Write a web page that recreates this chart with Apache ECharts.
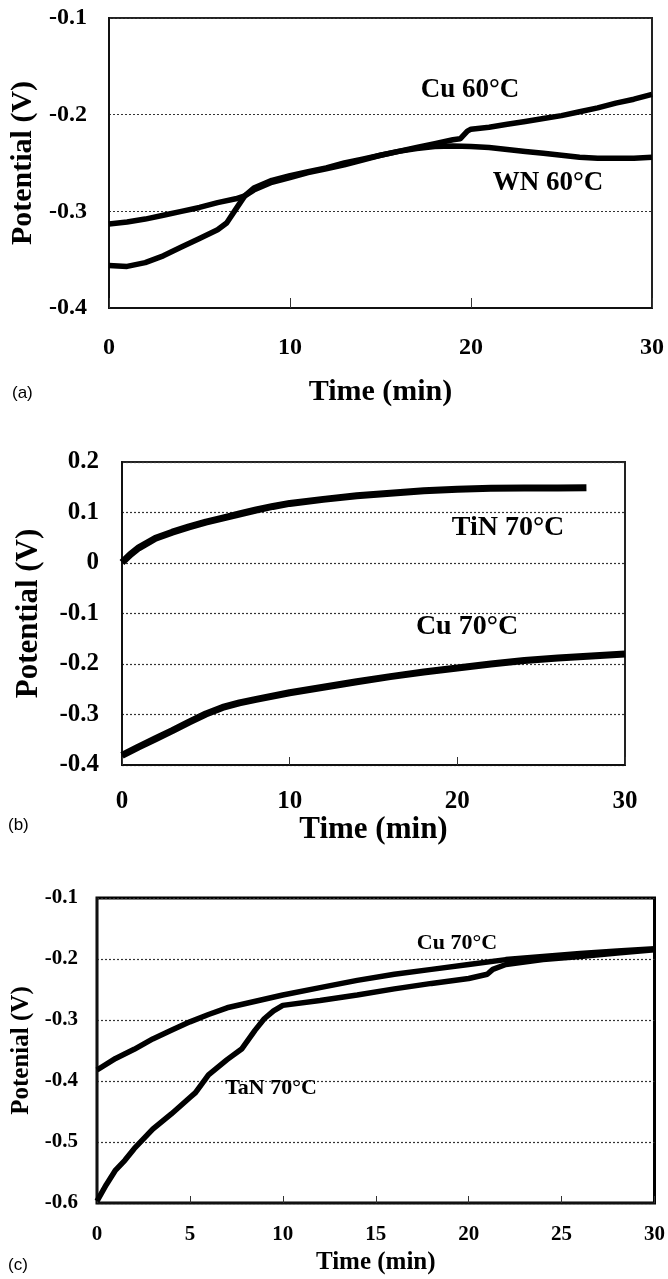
<!DOCTYPE html>
<html>
<head>
<meta charset="utf-8">
<script src="https://cdn.jsdelivr.net/npm/echarts@6/dist/echarts.min.js"></script>
<style>
html,body{margin:0;padding:0;background:#fff;}
#chart{width:668px;height:1279px;}
</style>
</head>
<body>
<div id="chart"></div>
<script>
// ---------- Data ----------
// Panel (a)
const timeA_Cu = [0,1,2,3,4,5,6,7,7.5,8,9,10,11,12,13,14,15,16,17,18,19,19.4,19.8,20,21,22,23,24,25,26,27,28,29,30];
const potA_Cu  = [-0.313,-0.311,-0.308,-0.304,-0.300,-0.296,-0.291,-0.287,-0.284,-0.278,-0.270,-0.265,-0.260,-0.256,-0.252,-0.247,-0.242,-0.238,-0.234,-0.230,-0.226,-0.225,-0.217,-0.215,-0.213,-0.210,-0.207,-0.204,-0.201,-0.197,-0.193,-0.188,-0.184,-0.179];
const timeA_WN = [0,1,2,3,4,5,6,6.5,7,7.5,8,9,10,11,12,13,14,15,16,17,18,19,20,21,22,23,24,25,26,27,28,29,30];
const potA_WN  = [-0.356,-0.357,-0.353,-0.346,-0.337,-0.328,-0.319,-0.312,-0.298,-0.284,-0.276,-0.268,-0.263,-0.259,-0.255,-0.250,-0.246,-0.242,-0.238,-0.235,-0.233,-0.2325,-0.233,-0.234,-0.236,-0.238,-0.240,-0.242,-0.244,-0.245,-0.245,-0.245,-0.244];
// Panel (b)
const timeB_TiN = [0,0.5,1,2,3,4,5,6,7,8,9,10,12,14,16,18,20,22,24,26,27.7];
const potB_TiN  = [0.001,0.017,0.030,0.049,0.061,0.0715,0.081,0.089,0.097,0.105,0.112,0.118,0.126,0.133,0.138,0.143,0.146,0.148,0.1485,0.1485,0.149];
const timeB_Cu = [0,1,2,3,4,5,6,7,8,10,12,14,16,18,20,22,24,26,28,30];
const potB_Cu  = [-0.381,-0.364,-0.348,-0.332,-0.315,-0.299,-0.286,-0.277,-0.270,-0.257,-0.246,-0.235,-0.225,-0.216,-0.208,-0.200,-0.193,-0.188,-0.184,-0.180];
// Panel (c)
const timeC_Cu = [0,1,2,3,4,5,6,7,8,10,12,14,16,18,20,22,24,26,28,30];
const potC_Cu  = [-0.382,-0.363,-0.348,-0.331,-0.317,-0.303,-0.291,-0.280,-0.273,-0.259,-0.247,-0.235,-0.225,-0.217,-0.209,-0.201,-0.196,-0.191,-0.187,-0.183];
const timeC_TaN = [0,0.5,1,1.5,2,3,4,5,5.3,6,7,7.8,8.5,9,9.5,10,12,14,16,18,20,21,21.3,22,24,26,28,30];
const potC_TaN  = [-0.597,-0.570,-0.546,-0.530,-0.511,-0.479,-0.454,-0.427,-0.419,-0.390,-0.365,-0.347,-0.317,-0.298,-0.285,-0.276,-0.268,-0.259,-0.249,-0.240,-0.232,-0.225,-0.217,-0.209,-0.201,-0.196,-0.190,-0.185];

// Axis settings (tick ranges)
const xTicksAB = {min:0, max:30, interval:10};
const xTicksC  = {min:0, max:30, interval:5};
const yRangeA = {min:-0.4, max:-0.1, interval:0.1};
const yRangeB = {min:-0.4, max:0.2, interval:0.1};
const yRangeC = {min:-0.6, max:-0.1, interval:0.1};

const xName = 'Time (min)';
const yNameAB = 'Potential (V)';
const yNameC = 'Potenial (V)';
const labelsA = ['Cu 60°C','WN 60°C'];
const labelsB = ['TiN 70°C','Cu 70°C'];
const labelsC = ['Cu 70°C','TaN 70°C'];
const panelTags = ['(a)','(b)','(c)'];

// ---------- Chart ----------
const SERIF = '"Liberation Serif","Times New Roman",serif';
const pair = (t,v) => t.map((x,i)=>[x,v[i]]);
const fmtY = v => String(+(+v).toFixed(1));

function xAxisCfg(idx, ticks, fontSize, margin, nameSize, nameGap, tickLen){
  return {
    type:'value', gridIndex:idx, min:ticks.min, max:ticks.max, interval:ticks.interval,
    axisLine:{show:true, onZero:false, lineStyle:{color:'#111', width:2}},
    axisTick:{show:true, inside:true, length:tickLen, lineStyle:{color:'#333', width:1}},
    splitLine:{show:false},
    axisLabel:{fontFamily:SERIF, fontWeight:'bold', fontSize:fontSize, color:'#000', margin:margin},
    name:xName, nameLocation:'middle', nameGap:nameGap,
    nameTextStyle:{fontFamily:SERIF, fontWeight:'bold', fontSize:nameSize, color:'#000'}
  };
}
function yAxisCfg(idx, r, fontSize, margin, name, nameSize, nameGap){
  return {
    type:'value', gridIndex:idx, min:r.min, max:r.max, interval:r.interval,
    axisLine:{show:true, onZero:false, lineStyle:{color:'#111', width:2}},
    axisTick:{show:false},
    splitLine:{show:true, lineStyle:{color:'#333', type:[2,2], width:1.2}},
    axisLabel:{fontFamily:SERIF, fontWeight:'bold', fontSize:fontSize, color:'#000', margin:margin, formatter:fmtY},
    name:name, nameLocation:'middle', nameGap:nameGap,
    nameTextStyle:{fontFamily:SERIF, fontWeight:'bold', fontSize:nameSize, color:'#000'}
  };
}
function lineSeries(idx, data, width){
  return {type:'line', xAxisIndex:idx, yAxisIndex:idx, data:data, showSymbol:false,
    smooth:false, lineStyle:{color:'#000', width:width}, silent:true, z:3};
}
function ann(text, x, y, size){
  return {type:'text', x:x, y:y, z:10, style:{text:text, fill:'#000',
    font:'bold '+size+'px '+SERIF, align:'center', verticalAlign:'middle'}};
}
function tag(text, x, y){
  return {type:'text', x:x, y:y, z:10, style:{text:text, fill:'#000',
    font:'17px "Liberation Sans", Arial, sans-serif', align:'left', verticalAlign:'middle'}};
}

const option = {
  animation:false,
  backgroundColor:'#fff',
  grid:[
    {left:109, top:18, width:543, height:290, show:true, borderColor:'#222', borderWidth:2, backgroundColor:'transparent'},
    {left:122, top:462, width:503, height:303, show:true, borderColor:'#222', borderWidth:2, backgroundColor:'transparent'},
    {left:97, top:898, width:560, height:305, show:true, borderColor:'#000', borderWidth:3, backgroundColor:'transparent'}
  ],
  xAxis:[
    xAxisCfg(0, xTicksAB, 24, 28, 30, 69, 10),
    xAxisCfg(1, xTicksAB, 25, 24, 31, 42, 8),
    xAxisCfg(2, xTicksC, 21, 21, 25, 47, 7)
  ],
  yAxis:[
    yAxisCfg(0, yRangeA, 24, 22, yNameAB, 30, 62),
    yAxisCfg(1, yRangeB, 25, 23, yNameAB, 31, 78),
    yAxisCfg(2, yRangeC, 21, 19, yNameC, 25, 63)
  ],
  series:[
    lineSeries(0, pair(timeA_Cu, potA_Cu), 5.5),
    lineSeries(0, pair(timeA_WN, potA_WN), 5.5),
    lineSeries(1, pair(timeB_TiN, potB_TiN), 7),
    lineSeries(1, pair(timeB_Cu, potB_Cu), 7),
    lineSeries(2, pair(timeC_Cu, potC_Cu), 5.5),
    lineSeries(2, pair(timeC_TaN, potC_TaN), 5.5)
  ],
  graphic:[
    ann(labelsA[0], 470, 90, 27),
    ann(labelsA[1], 548, 183, 27),
    ann(labelsB[0], 508, 528, 28),
    ann(labelsB[1], 467, 627, 28),
    ann(labelsC[0], 457, 943, 22),
    ann(labelsC[1], 271, 1088, 22),
    tag(panelTags[0], 12, 393),
    tag(panelTags[1], 8, 825),
    tag(panelTags[2], 8, 1265)
  ]
};

const chart = echarts.init(document.getElementById('chart'), null, {renderer:'canvas', width:668, height:1279});
chart.setOption(option);
</script>
</body>
</html>
